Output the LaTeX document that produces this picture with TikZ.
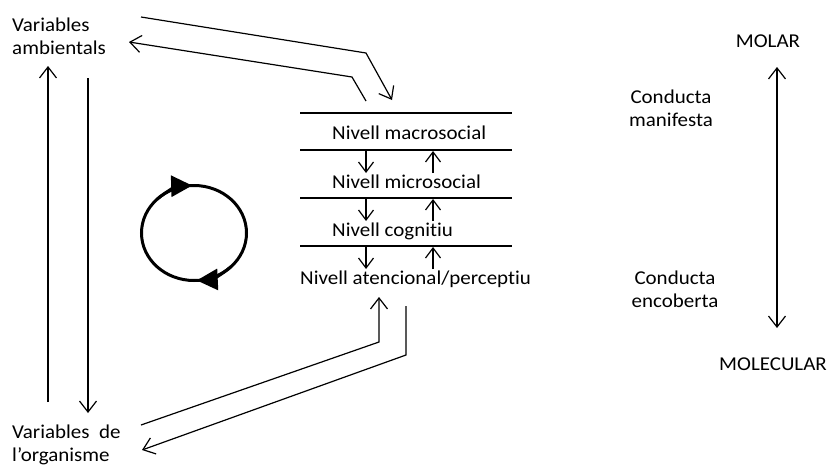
\documentclass[tikz,border=0pt]{standalone}
\usepackage{fontspec}
\setmainfont{Carlito}[Ligatures=NoCommon]
\usetikzlibrary{arrows.meta}
\begin{document}
\begin{tikzpicture}[x=1pt,y=-1pt,
  txt/.style={inner sep=0pt, xscale=1.07, font=\fontsize{19.6}{23}\selectfont},
  ln/.style={line width=1.2pt},
  arr/.style={ln, -{Straight Barb[length=11pt,width=17pt]}},
  darr/.style={ln, {Straight Barb[length=11pt,width=17pt]}-{Straight Barb[length=11pt,width=17pt]}},
  small/.style={ln, -{Straight Barb[length=10pt,width=15pt]}},
  ring/.style={line width=3pt},
  cyc/.style={line width=3pt, -{Triangle[length=21pt,width=21pt]}}
]
\useasboundingbox (0,0) rectangle (827,466);

% outer variables (anchored on the baseline of the last line)
\node[txt, anchor=base west, align=left] (amb) at (12,54) {Variables\\ambientals};
\node[txt, anchor=base west, align=left] (org) at (12,461) {Variables\ \ de\\l’organisme};

% levels
\node[txt, anchor=base west] (macro) at (332,139) {Nivell macrosocial};
\node[txt, anchor=base west] (micro) at (332,188) {Nivell microsocial};
\node[txt, anchor=base west] (cogn)  at (332,236) {Nivell cognitiu};
\node[txt, anchor=base west] (aten)  at (300,284) {Nivell atencional/perceptiu};

% right-hand scale
\node[txt, anchor=base] (molar) at (768,47) {MOLAR};
\node[txt, anchor=base] (molec) at (773,370) {MOLECULAR};
\node[txt, anchor=base, align=center] (manif) at (671,126) {Conducta\\manifesta};
\node[txt, anchor=base, align=center] (encob) at (675,307) {Conducta\\encoberta};

% separating lines between levels
\foreach \i/\y in {1/113,2/150,3/198,4/246}{
  \coordinate (s\i l) at (300,\y);
  \coordinate (s\i r) at (512,\y);
  \draw[ln] (s\i l) -- (s\i r);
}

% arrows between levels
\foreach \i/\y in {2/150,3/198,4/246}{
  \coordinate (d\i a) at (366,\y);
  \coordinate (d\i b) at (366,\y+23);
  \coordinate (u\i a) at (433,\y+23);
  \coordinate (u\i b) at (433,\y+1);
  \draw[small] (d\i a) -- (d\i b);
  \draw[small] (u\i a) -- (u\i b);
}

% environment <-> top level
\coordinate (t1) at (141,17);
\coordinate (t2) at (366,53);
\coordinate (t3) at (392,100);
\draw[arr] (t1) -- (t2) -- (t3);
\coordinate (r1) at (366,101);
\coordinate (r2) at (352,77);
\coordinate (r3) at (129,42);
\draw[arr] (r1) -- (r2) -- (r3);

% environment <-> organism
\coordinate (v1) at (48,402);
\coordinate (v2) at (48,66);
\draw[arr] (v1) -- (v2);
\coordinate (w1) at (88,78);
\coordinate (w2) at (88,413);
\draw[arr] (w1) -- (w2);

% organism <-> attentional level
\coordinate (b1) at (141,425);
\coordinate (b2) at (379,342);
\coordinate (b3) at (379,297);
\draw[arr] (b1) -- (b2) -- (b3);
\coordinate (c1) at (406,306);
\coordinate (c2) at (406,355);
\coordinate (c3) at (142,450);
\draw[arr] (c1) -- (c2) -- (c3);

% molar / molecular scale
\coordinate (m1) at (777,67);
\coordinate (m2) at (777,328);
\draw[darr] (m1) -- (m2);

% feedback cycle (clockwise)
\coordinate (cyc) at (194,233);
\draw[ring] (cyc) ellipse[x radius=52.5, y radius=47.5];
\draw[cyc] (cyc) ++(225:52.5 and 47.5) arc[start angle=225, end angle=268, x radius=52.5, y radius=47.5];
\draw[cyc] (cyc) ++(45:52.5 and 47.5) arc[start angle=45, end angle=87, x radius=52.5, y radius=47.5];
\end{tikzpicture}
\end{document}
